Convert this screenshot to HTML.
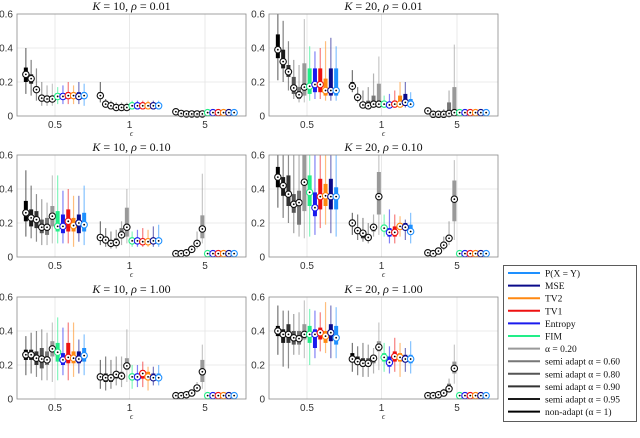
<!DOCTYPE html>
<html><head><meta charset="utf-8">
<style>
html,body{margin:0;padding:0;background:#fff;}
svg{display:block;}
</style></head>
<body>
<svg id="chart" width="640" height="438" viewBox="0 0 640 438" xmlns="http://www.w3.org/2000/svg"></svg>
<script>
// ---- data ----
const groupLabels = ["0.5","1","5"];
const yTicks = [0,0.2,0.4,0.6];
const yTickLabels = ["0","0.2","0.4","0.6"];
const seriesNames = ["non-adapt (α = 1)","semi adapt α = 0.95","semi adapt α = 0.90","semi adapt α = 0.80","semi adapt α = 0.60","α = 0.20","FIM","Entropy","TV1","TV2","MSE","P(X = Y)"];
const seriesColors = ["#000000","#1a1a1a","#333333","#555555","#777777","#999999","#22ee88","#1a1aee","#ee1111","#ff8811","#0a0a8a","#1e90ff"];
const panelTitles = [["10","0.01"],["20","0.01"],["10","0.10"],["20","0.10"],["10","1.00"],["20","1.00"]];

// Panel A: K=10, rho=0.01
const A_med=[.245,.22,.155,.105,.10,.10,.115,.115,.12,.12,.115,.12, .12,.07,.06,.05,.05,.05,.06,.06,.06,.06,.06,.06, .025,.015,.012,.012,.012,.012,.02,.02,.02,.02,.02,.02];
const A_q1=[.20,.19,.14,.09,.09,.09,.10,.10,.10,.10,.10,.10, .10,.065,.055,.045,.045,.045,.05,.05,.05,.05,.05,.05, .02,.01,.01,.01,.01,.01,.018,.018,.018,.018,.018,.018];
const A_q3=[.285,.245,.17,.12,.11,.115,.135,.135,.14,.135,.14,.14, .14,.075,.065,.055,.055,.055,.07,.07,.07,.07,.07,.07, .03,.018,.015,.015,.015,.015,.022,.022,.022,.022,.022,.022];
const A_lo=[.13,.12,.09,.06,.06,.06,.07,.07,.07,.07,.07,.06, .08,.05,.04,.04,.04,.04,.04,.04,.04,.04,.04,.04, .015,.008,.008,.008,.008,.008,.015,.015,.015,.015,.015,.015];
const A_hi=[.40,.33,.28,.20,.18,.19,.17,.18,.20,.18,.20,.19, .20,.10,.09,.08,.08,.08,.09,.09,.09,.09,.09,.09, .035,.02,.02,.02,.02,.02,.025,.025,.025,.025,.025,.025];
// Panel B: K=20, rho=0.01
const B_med=[.39,.32,.26,.165,.125,.17,.175,.185,.185,.15,.15,.15, .175,.11,.065,.06,.07,.07,.07,.065,.07,.07,.08,.07, .03,.01,.01,.01,.015,.02,.02,.02,.02,.02,.02,.02];
const B_q1=[.34,.28,.23,.13,.10,.12,.13,.14,.14,.12,.12,.12, .16,.09,.06,.05,.06,.06,.06,.06,.06,.06,.06,.06, .025,.008,.008,.008,.012,.015,.018,.018,.018,.018,.018,.018];
const B_q3=[.48,.39,.30,.23,.17,.31,.28,.28,.28,.22,.28,.28, .20,.12,.08,.09,.12,.19,.08,.08,.09,.12,.13,.10, .035,.015,.015,.02,.08,.17,.022,.022,.022,.022,.022,.022];
const B_lo=[.21,.20,.15,.10,.08,.08,.09,.10,.10,.09,.09,.09, .14,.08,.05,.04,.05,.05,.05,.05,.05,.05,.05,.05, .02,.005,.005,.005,.008,.01,.015,.015,.015,.015,.015,.015];
const B_hi=[.60,.56,.44,.33,.30,.57,.41,.38,.40,.44,.46,.41, .27,.17,.15,.17,.25,.35,.12,.13,.15,.20,.20,.14, .04,.02,.03,.04,.15,.42,.025,.025,.025,.025,.025,.025];
// Panel C: K=10, rho=0.10
const C_med=[.26,.23,.22,.175,.175,.24,.18,.18,.21,.185,.20,.19, .115,.10,.08,.085,.13,.175,.095,.095,.09,.09,.095,.095, .02,.02,.025,.045,.08,.165,.02,.02,.02,.02,.02,.02];
const C_q1=[.21,.18,.17,.14,.13,.18,.15,.14,.15,.15,.14,.15, .10,.08,.07,.07,.11,.12,.085,.085,.085,.085,.085,.085, .018,.018,.02,.04,.07,.11,.018,.018,.018,.018,.018,.018];
const C_q3=[.33,.28,.27,.22,.23,.30,.27,.25,.28,.23,.25,.26, .13,.12,.10,.11,.17,.29,.105,.105,.105,.105,.105,.105, .02,.02,.03,.05,.10,.245,.022,.022,.022,.022,.022,.022];
const C_lo=[.12,.11,.09,.07,.07,.08,.08,.08,.08,.06,.09,.07, .07,.06,.05,.05,.07,.08,.06,.06,.06,.06,.06,.06, .015,.015,.018,.03,.05,.08,.015,.015,.015,.015,.015,.015];
const C_hi=[.51,.42,.37,.34,.32,.48,.48,.39,.40,.36,.36,.42, .21,.17,.15,.16,.21,.40,.15,.16,.17,.16,.18,.19, .02,.03,.04,.07,.15,.49,.025,.025,.025,.025,.025,.025];
// Panel D: K=20, rho=0.10
const D_med=[.47,.42,.37,.31,.32,.44,.38,.29,.355,.36,.355,.355, .20,.155,.14,.115,.175,.355,.17,.145,.145,.18,.175,.15, .025,.02,.035,.07,.11,.34,.02,.02,.02,.02,.02,.02];
const D_q1=[.41,.36,.30,.26,.19,.27,.30,.24,.28,.30,.28,.28, .18,.14,.11,.10,.15,.25,.15,.12,.12,.16,.16,.14, .02,.018,.03,.06,.10,.21,.018,.018,.018,.018,.018,.018];
const D_q3=[.53,.47,.48,.37,.39,.60,.48,.38,.46,.43,.46,.41, .22,.17,.15,.13,.19,.50,.19,.17,.18,.20,.20,.19, .03,.025,.04,.08,.13,.45,.022,.022,.022,.022,.022,.022];
const D_lo=[.29,.23,.20,.14,.12,.11,.12,.13,.17,.19,.14,.12, .13,.10,.09,.08,.12,.13,.12,.08,.08,.12,.10,.08, .02,.015,.02,.04,.07,.10,.015,.015,.015,.015,.015,.015];
const D_hi=[.62,.62,.62,.62,.62,.62,.62,.62,.62,.62,.62,.62, .26,.25,.23,.20,.25,.60,.25,.28,.25,.24,.22,.26, .03,.03,.05,.12,.21,.57,.025,.025,.025,.025,.025,.025];
// Panel E: K=10, rho=1.00
const E_med=[.26,.26,.24,.235,.23,.295,.275,.23,.245,.24,.235,.255, .13,.125,.125,.145,.135,.195,.13,.13,.15,.13,.125,.125, .02,.02,.025,.035,.065,.16,.02,.02,.02,.02,.02,.02];
const E_q1=[.23,.23,.20,.18,.20,.25,.22,.20,.21,.21,.21,.22, .11,.10,.10,.12,.12,.17,.11,.11,.12,.11,.11,.11, .018,.018,.02,.03,.055,.10,.018,.018,.018,.018,.018,.018];
const E_q3=[.29,.29,.28,.30,.28,.34,.33,.27,.33,.28,.28,.30, .15,.15,.14,.16,.16,.24,.15,.15,.17,.16,.15,.15, .02,.02,.025,.04,.07,.23,.022,.022,.022,.022,.022,.022];
const E_lo=[.14,.15,.13,.11,.11,.10,.11,.14,.11,.13,.15,.14, .06,.05,.06,.08,.07,.10,.06,.07,.07,.05,.08,.08, .015,.015,.018,.025,.04,.06,.015,.015,.015,.015,.015,.015];
const E_hi=[.37,.39,.40,.41,.39,.45,.48,.42,.45,.45,.35,.38, .23,.25,.23,.25,.25,.41,.20,.20,.22,.19,.19,.20, .02,.025,.03,.05,.10,.32,.025,.025,.025,.025,.025,.025];
// Panel F: K=20, rho=1.00
const F_med=[.40,.38,.38,.36,.355,.38,.38,.38,.39,.37,.39,.36, .235,.22,.21,.21,.24,.305,.245,.215,.25,.245,.235,.235, .02,.02,.025,.035,.06,.18,.02,.02,.02,.02,.02,.02];
const F_q1=[.37,.33,.33,.32,.32,.35,.33,.30,.35,.33,.34,.32, .22,.20,.19,.19,.21,.28,.22,.19,.22,.22,.22,.21, .018,.018,.02,.03,.05,.15,.018,.018,.018,.018,.018,.018];
const F_q3=[.43,.41,.44,.40,.40,.44,.43,.41,.42,.40,.44,.43, .27,.25,.24,.24,.26,.34,.27,.25,.28,.27,.26,.26, .02,.02,.03,.05,.09,.22,.022,.022,.022,.022,.022,.022];
const F_lo=[.26,.19,.18,.26,.26,.24,.20,.24,.28,.27,.24,.24, .16,.14,.13,.13,.15,.17,.16,.15,.16,.13,.16,.15, .015,.015,.018,.025,.04,.09,.015,.015,.015,.015,.015,.015];
const F_hi=[.55,.52,.52,.50,.51,.58,.53,.52,.51,.57,.55,.54, .33,.31,.33,.32,.30,.45,.33,.31,.36,.33,.30,.34, .02,.02,.04,.06,.12,.32,.025,.025,.025,.025,.025,.025];

const panelMed=[A_med,B_med,C_med,D_med,E_med,F_med];
const panelQ1=[A_q1,B_q1,C_q1,D_q1,E_q1,F_q1];
const panelQ3=[A_q3,B_q3,C_q3,D_q3,E_q3,F_q3];
const panelLo=[A_lo,B_lo,C_lo,D_lo,E_lo,F_lo];
const panelHi=[A_hi,B_hi,C_hi,D_hi,E_hi,F_hi];

// ---- layout ----
const NS="http://www.w3.org/2000/svg";
const svg=document.getElementById('chart');
function mk(tag,attrs,parent){const e=document.createElementNS(NS,tag);for(const k in attrs)e.setAttribute(k,attrs[k]);(parent||svg).appendChild(e);return e;}
const colX=[17,269], rowY=[14,155,297], PW=229, PH=102;
const groupOffsets=[38,112.5,188];
const BOXSP=5.3, YMAX=0.6;

for(let p=0;p<6;p++){
  const x0=colX[p%2], y0=rowY[Math.floor(p/2)];
  const g=mk('g',{});
  
  
  const yS=v=>y0+PH-Math.min(v,YMAX)/YMAX*PH;
  const xS=(gi,i)=>x0+groupOffsets[gi]+(i-5.5)*BOXSP;
  mk('rect',{x:x0,y:y0,width:PW,height:PH,fill:'#fff'},g);
  // grid
  yTicks.forEach((t,i)=>{
    if(i>0&&i<yTicks.length-1) mk('line',{x1:x0,x2:x0+PW,y1:yS(t),y2:yS(t),stroke:'#e4e4e4','stroke-width':0.8},g);
    const tl=mk('text',{x:x0-4,y:yS(t)+3.5,'text-anchor':'end','font-size':'10','font-family':'Liberation Sans, sans-serif',fill:'#333'},g);
    tl.textContent=yTickLabels[i];
    
    
  });
  groupLabels.forEach((lab,gi)=>{
    const gx=x0+groupOffsets[gi];
    mk('line',{x1:gx,x2:gx,y1:y0,y2:y0+PH,stroke:'#e4e4e4','stroke-width':0.8},g);
    const tl=mk('text',{x:gx,y:y0+PH+12,'text-anchor':'middle','font-size':'10','font-family':'Liberation Sans, sans-serif',fill:'#333'},g);
    tl.textContent=lab;
    
    
  });
  // boxes
  const med=panelMed[p],q1=panelQ1[p],q3=panelQ3[p],lo=panelLo[p],hi=panelHi[p];
  for(let gi=0;gi<3;gi++){
    for(let i=0;i<12;i++){
      const k=gi*12+i, cx=xS(gi,i), col=seriesColors[i];
      const bg=mk('g',{},g);
      
      
      mk('line',{x1:cx,x2:cx,y1:yS(lo[k]),y2:yS(hi[k]),stroke:col,'stroke-width':1.2,'stroke-opacity':0.55},bg);
      mk('rect',{x:cx-2,y:yS(q3[k]),width:4,height:Math.max(0.5,yS(q1[k])-yS(q3[k])),fill:col},bg);
      const mc=i<6?'#111':col;
      mk('circle',{cx:cx,cy:yS(med[k]),r:3.2,fill:'#fff',stroke:mc,'stroke-width':1.1},bg);
      mk('circle',{cx:cx,cy:yS(med[k]),r:0.9,fill:'#000'},bg);
    }
  }
  mk('rect',{x:x0,y:y0,width:PW,height:PH,fill:'none',stroke:'#8a8a8a','stroke-width':0.8},g);
  // title
  const tt=mk('text',{x:x0+PW/2,y:y0-4,'text-anchor':'middle','font-size':'12','font-family':'Liberation Serif, serif',fill:'#111'},g);
  
  
  const a=mk('tspan',{'font-style':'italic'},tt);a.textContent='K';
  const b=mk('tspan',{},tt);b.textContent=' = '+panelTitles[p][0]+', ';
  const c=mk('tspan',{'font-style':'italic'},tt);c.textContent='ρ';
  const d=mk('tspan',{},tt);d.textContent=' = '+panelTitles[p][1];
  const xl=mk('text',{x:x0+PW/2,y:y0+PH+20,'text-anchor':'middle','font-size':'8','font-style':'italic','font-family':'Liberation Serif, serif',fill:'#333'},g);
  xl.textContent='ϵ';
  
  
}

// legend
const lg=mk('g',{});


mk('rect',{x:503.5,y:265.5,width:133,height:156,fill:'#fff',stroke:'#333','stroke-width':0.8},lg);
const legendOrder=[11,10,9,8,7,6,5,4,3,2,1,0];
legendOrder.forEach((si,j)=>{
  const y=273+j*12.6;
  const e=mk('g',{},lg);
  
  
  mk('line',{x1:508,x2:540,y1:y,y2:y,stroke:seriesColors[si],'stroke-width':2},e);
  const t=mk('text',{x:545,y:y+3.5,'font-size':'9.5','font-family':'Liberation Serif, serif',fill:'#111'},e);
  t.textContent=seriesNames[si];
});
</script>
</body></html>
